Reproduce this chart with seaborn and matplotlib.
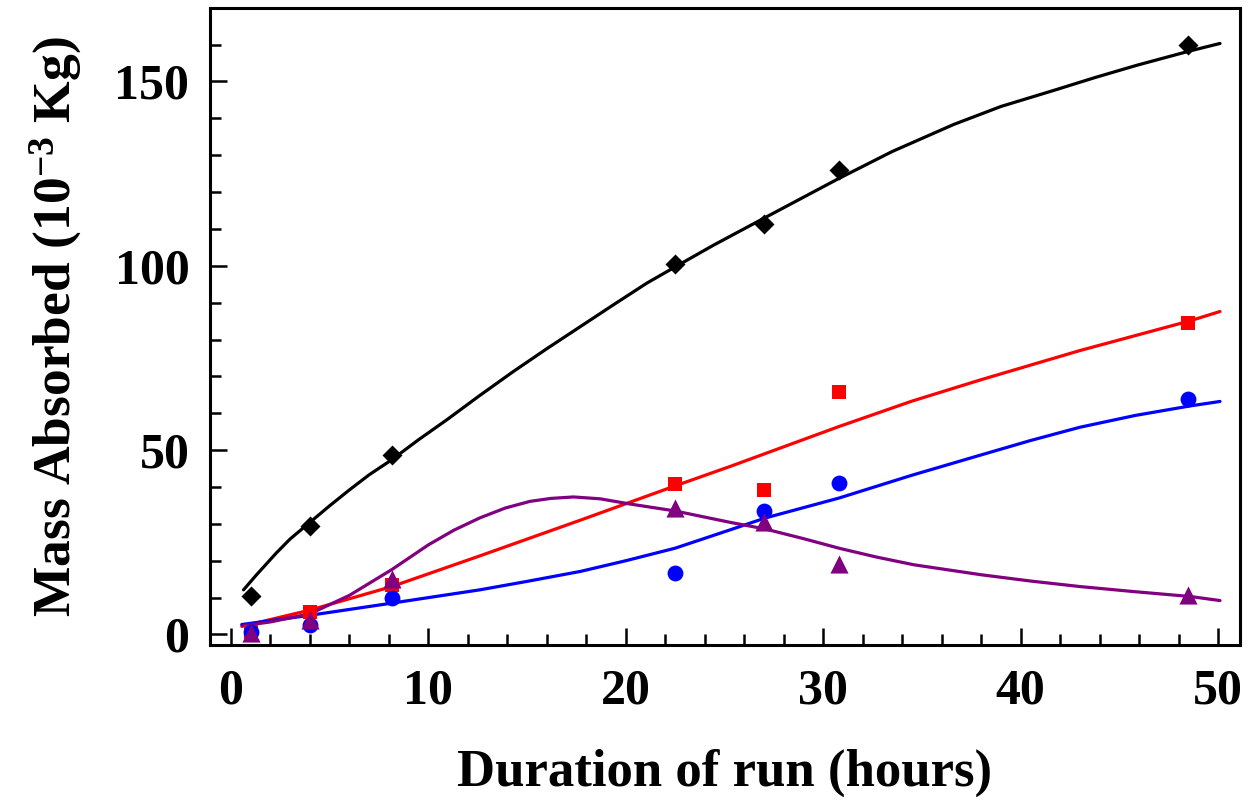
import numpy as np
import pandas as pd
import matplotlib
matplotlib.use("Agg")
import matplotlib.pyplot as plt
from matplotlib.ticker import MultipleLocator
import seaborn as sns

# ── Data ─────────────────────────────────────────────────────────────────────
hours = [1.0, 4.0, 8.15, 22.5, 27.0, 30.8, 48.5]
black_pts = [10.5, 29.3, 48.7, 100.6, 111.4, 126.0, 159.8]
red_pts = [0.8, 6.2, 13.3, 40.8, 39.2, 65.9, 84.6]
blue_pts = [0.6, 2.6, 9.8, 16.6, 33.4, 41.2, 64.0]
purple_pts = [0.4, 4.0, 15.0, 34.4, 30.6, 19.0, 10.8]

# fitted curves
black_cx = [0.64, 1.3, 2.3, 3.0, 4.0, 5.0, 6.0, 7.0, 8.15, 9.5, 10.93, 12.6,
            14.3, 16.0, 17.7, 19.4, 21.07, 22.8, 24.45, 27.0, 28.9, 30.73,
            33.5, 36.6, 39.0, 41.7, 43.8, 45.9, 48.6, 50.1]
black_cy = [12.1, 16.2, 22.1, 25.9, 30.4, 34.9, 39.2, 43.3, 47.4, 52.8, 58.2,
            64.8, 71.3, 77.5, 83.5, 89.5, 95.3, 100.6, 105.6, 112.9, 118.3,
            123.5, 131.0, 138.3, 143.2, 147.6, 151.1, 154.4, 158.3, 160.3]

red_cx = [0.55, 4.0, 8.15, 12.6, 17.7, 22.5, 25.3, 30.8, 34.5, 38.0, 43.0, 48.6, 50.1]
red_cy = [2.2, 6.6, 13.0, 21.3, 31.0, 40.3, 45.6, 56.4, 63.3, 69.1, 77.0, 85.1, 87.6]

blue_cx = [0.55, 4.0, 8.15, 12.6, 15.0, 17.7, 20.0, 22.5, 25.3, 27.07, 30.8,
           34.5, 38.0, 40.5, 43.0, 45.8, 48.6, 50.1]
blue_cy = [2.7, 5.2, 8.5, 12.1, 14.4, 17.1, 20.0, 23.4, 28.4, 31.6, 37.0,
           43.2, 48.7, 52.6, 56.2, 59.4, 62.0, 63.2]

purple_cx = [0.64, 2.0, 4.0, 6.0, 8.15, 10.0, 11.3, 12.6, 13.9, 15.15, 16.2,
             17.35, 18.7, 20.2, 22.5, 25.3, 27.07, 29.0, 30.8, 32.7, 34.6,
             38.0, 40.5, 43.0, 45.8, 48.6, 50.1]
purple_cy = [2.4, 3.4, 5.6, 10.6, 17.6, 24.3, 28.3, 31.6, 34.3, 36.1, 36.9,
             37.3, 36.8, 35.4, 33.5, 30.4, 28.6, 26.0, 23.4, 21.0, 18.9,
             16.2, 14.5, 13.0, 11.6, 10.3, 9.2]

# ── Style ────────────────────────────────────────────────────────────────────
sns.set_theme(style="ticks")
plt.rcParams.update({
    "font.family": ["Liberation Serif", "DejaVu Serif"],
    "font.weight": "bold",
    "mathtext.fontset": "custom",
    "mathtext.rm": "Liberation Serif:bold",
    "mathtext.it": "Liberation Serif:bold",
    "mathtext.bf": "Liberation Serif:bold",
    "mathtext.default": "rm",
    "axes.linewidth": 2.2,
    "text.color": "black",
    "axes.labelcolor": "black",
    "xtick.color": "black",
    "ytick.color": "black",
})

series = [
    ("black", "D", 104, black_pts, black_cx, black_cy),
    ("#FF0000", "s", 100, red_pts, red_cx, red_cy),
    ("#0000FF", "o", 130, blue_pts, blue_cx, blue_cy),
    ("#800080", "^", 170, purple_pts, purple_cx, purple_cy),
]

fig = plt.figure(figsize=(12.51, 8.05), dpi=100)
ax = fig.add_axes([0.168, 0.199, 0.823, 0.791])

for color, marker, size, pts, cx, cy in series:
    curve = pd.DataFrame({"x": cx, "y": cy})
    sns.lineplot(data=curve, x="x", y="y", color=color, linewidth=2.3,
                 sort=False, estimator=None, ax=ax)
for color, marker, size, pts, cx, cy in series:
    df = pd.DataFrame({"x": hours, "y": pts})
    sns.scatterplot(data=df, x="x", y="y", color=color, marker=marker,
                    s=size, linewidth=0, ax=ax, zorder=3)

ax.set_xlim(-1.05, 51.1)
ax.set_ylim(-2.8, 169.9)
ax.xaxis.set_major_locator(MultipleLocator(10))
ax.xaxis.set_minor_locator(MultipleLocator(2))
ax.yaxis.set_major_locator(MultipleLocator(50))
ax.yaxis.set_minor_locator(MultipleLocator(10))
ax.tick_params(which="both", direction="in", top=False, right=False,
               width=1.8, colors="black")
ax.tick_params(which="major", length=12, labelsize=36)
ax.tick_params(which="minor", length=8)
ax.tick_params(axis="x", which="major", pad=17)
ax.tick_params(axis="y", which="major", pad=15)
for lab in ax.get_xticklabels() + ax.get_yticklabels():
    lab.set_fontweight("bold")
for sp in ax.spines.values():
    sp.set_color("black")

ax.set_xlabel("Duration of run (hours)", fontsize=38, fontweight="bold",
              labelpad=25, color="black")
ax.set_ylabel(r"Mass Absorbed (10$^{-3}$ Kg)", fontsize=38.5, fontweight="bold",
              labelpad=22, color="black")

fig.savefig("out.png", dpi=100)
